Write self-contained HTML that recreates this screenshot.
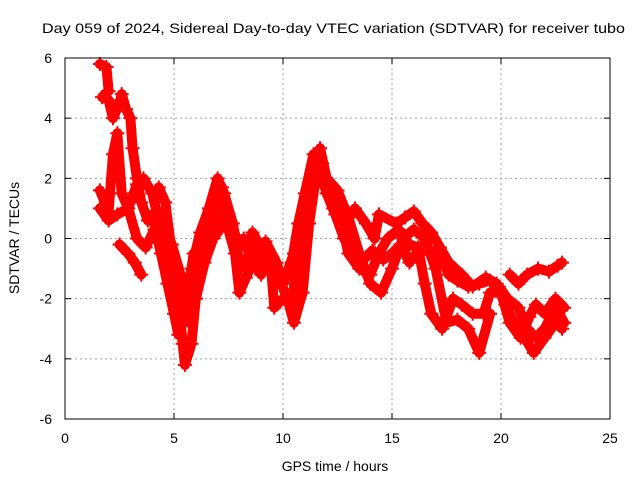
<!DOCTYPE html>
<html><head><meta charset="utf-8"><style>
body{margin:0;background:#fff}
svg text{font-family:"Liberation Sans",sans-serif;font-size:14px;fill:#000}
</style></head><body>
<svg id="chart" width="640" height="480">
<rect width="640" height="480" fill="#fff"/>
<g id="grid"></g>
<g id="series"></g>
<rect x="65" y="58" width="545" height="361" fill="none" stroke="#000"/>
<g id="ticks"></g>
<text x="42" y="33" textLength="583" lengthAdjust="spacingAndGlyphs">Day 059 of 2024, Sidereal Day-to-day VTEC variation (SDTVAR) for receiver tubo</text>
<text x="335" y="471" text-anchor="middle">GPS time / hours</text>
<text x="19" y="238" text-anchor="middle" transform="rotate(-90 19 238)">SDTVAR / TECUs</text>
</svg>
<script>
const xTicks=[0,5,10,15,20,25];
const yTicks=[-6,-4,-2,0,2,4,6];
const trackA=[[1.6,5.8],[1.9,5.7],[2.0,4.9],[1.7,4.7],[2.0,4.6],[2.2,4.0],[2.5,4.5],[2.6,4.8],[2.8,4.3],[3.0,4.0],[3.1,3.0],[3.3,2.0],[3.5,1.2],[3.8,0.6],[4.0,0.8],[4.4,-0.5],[4.7,-1.5],[5.0,-2.5],[5.2,-3.2],[5.5,-2.5],[5.8,-1.0],[6.2,0.2],[6.6,1.0],[7.0,2.0],[7.3,1.5],[7.7,0.5],[8.0,-0.8],[8.3,-1.0],[8.6,0.2],[9.0,-0.3],[9.4,-1.0],[9.8,-1.3],[10.2,-2.0],[10.5,-2.8],[10.9,-1.8],[11.2,0.5],[11.5,2.0],[11.7,3.0],[12.0,2.0],[12.5,1.6],[13.0,0.7],[13.5,-0.5],[14.0,-1.5],[14.5,-1.8],[15.0,-1.0],[15.5,0.0],[16.0,0.3],[16.5,0.0],[17.0,-1.0],[17.5,-2.8],[18.0,-2.7],[18.5,-3.0],[19.0,-3.8],[19.5,-2.5]];
const trackB=[[1.6,1.6],[2.0,0.9],[2.2,2.8],[2.4,3.5],[2.6,1.5],[2.9,1.0],[3.3,1.8],[3.6,2.0],[4.0,1.5],[4.3,0.6],[4.6,-0.5],[5.0,-1.5],[5.3,-2.5],[5.6,-2.0],[5.9,-0.5],[6.3,-0.2],[6.8,0.5],[7.3,0.8],[7.8,-0.5],[8.0,-1.8],[8.3,-1.3],[8.6,-0.8],[9.2,-0.1],[9.7,-0.8],[10.0,-1.5],[10.5,-0.5],[10.9,0.3],[11.2,1.5],[11.6,2.5],[12.0,1.5],[12.4,0.8],[12.8,0.0],[13.2,-0.5],[13.7,-0.7],[14.1,-0.4],[14.6,-0.7],[15.0,-0.5],[15.4,-0.2],[15.8,-0.8],[16.3,-0.3],[16.8,-0.5],[17.2,-0.5],[17.6,-1.2],[18.0,-1.4],[18.5,-1.6],[19.0,-1.5],[19.5,-1.4],[19.9,-1.6],[20.3,-2.0],[20.8,-2.3],[21.2,-3.0],[21.6,-3.3],[22.0,-3.0],[22.5,-2.3],[22.9,-2.8]];
const trackC1=[[2.5,-0.2],[2.9,-0.5],[3.2,-0.8],[3.5,-1.2]];
const trackC=[[4.3,1.7],[4.6,1.2],[4.9,-0.5],[5.2,-2.0],[5.4,-3.5],[5.5,-4.2],[5.8,-3.5],[6.0,-2.0],[6.3,-0.5],[6.7,0.2],[7.2,1.7],[7.5,0.8],[8.0,-0.3],[8.5,0.0],[9.0,-0.8],[9.5,-0.6],[10.0,-1.5],[10.4,-0.8],[10.7,0.5],[11.0,1.5],[11.4,2.8],[11.8,2.5],[12.3,1.0],[12.8,0.5],[13.3,1.0],[13.8,0.5],[14.2,0.0],[14.4,0.8],[15.2,0.5],[15.6,0.7],[16.0,0.9],[16.4,0.5],[16.8,0.2],[17.2,-0.3],[17.6,-0.8],[18.2,-1.2],[18.7,-1.6],[19.3,-1.3],[19.8,-1.5],[20.2,-2.2],[20.6,-2.8],[21.0,-3.2],[21.5,-3.8],[22.0,-3.3],[22.5,-2.8],[22.8,-3.0]];
const trackD=[[1.6,1.0],[2.0,0.6],[2.4,0.8],[2.9,1.0],[3.3,0.0],[3.7,-0.3],[4.1,0.3],[4.5,0.5],[4.9,-0.2],[5.3,-1.2],[5.7,-2.8],[6.0,-2.0],[6.4,-0.8],[6.8,0.0],[7.4,0.6],[7.8,-0.2],[8.2,0.0],[8.6,-0.8],[9.0,-1.2],[9.4,-0.5],[9.6,-2.3],[10.0,-2.0],[10.4,-2.2],[10.7,-0.5],[11.2,1.2],[11.6,2.0],[12.2,1.8],[12.6,0.8],[13.0,-0.5],[13.5,-1.0],[14.0,-1.2],[14.4,-0.5],[14.8,0.0],[15.3,0.3],[15.8,-0.2],[16.2,-0.3],[16.5,-1.5],[16.8,-2.5],[17.3,-3.0],[17.8,-2.0],[18.2,-2.2],[18.7,-2.5],[19.2,-2.5],[19.5,-1.8],[20.0,-1.8],[20.4,-2.8],[20.9,-3.3],[21.3,-2.6],[21.6,-2.2],[22.0,-2.5],[22.5,-2.0],[22.9,-2.3]];
const trackE=[[20.4,-1.2],[20.8,-1.5],[21.2,-1.2],[21.7,-1.0],[22.2,-1.1],[22.6,-0.9],[22.8,-0.8]];
const tracks=[trackA,trackB,trackC1,trackC,trackD,trackE];

const NS="http://www.w3.org/2000/svg";
const X0=65,X1=610,Y0=419,Y1=58;
function sx(v){return X0+(v-0)/(25-0)*(X1-X0);}
function sy(v){return Y0-(v+6)/12*(Y0-Y1);}
function mk(tag,attrs,parent){const e=document.createElementNS(NS,tag);for(const k in attrs)e.setAttribute(k,attrs[k]);parent.appendChild(e);return e;}
const grid=document.getElementById('grid'),ticks=document.getElementById('ticks'),ser=document.getElementById('series');
xTicks.forEach(t=>{const x=sx(t);
 if(t>0&&t<25){const g=mk('line',{x1:x,x2:x,y1:Y1,y2:Y0,stroke:'#a0a0a0','stroke-dasharray':'2,3'},grid);}
 const a=mk('line',{x1:x,x2:x,y1:Y0,y2:Y0-6,stroke:'#000'},ticks);
 const b=mk('line',{x1:x,x2:x,y1:Y1,y2:Y1+6,stroke:'#000'},ticks);
 const l=mk('text',{x:x,y:443,'text-anchor':'middle'},ticks);l.textContent=t;});
yTicks.forEach(t=>{const y=sy(t);
 if(t>-6&&t<6){const g=mk('line',{x1:X0,x2:X1,y1:y,y2:y,stroke:'#a0a0a0','stroke-dasharray':'2,3'},grid);}
 const a=mk('line',{x1:X0,x2:X0+6,y1:y,y2:y,stroke:'#000'},ticks);
 const b=mk('line',{x1:X1,x2:X1-6,y1:y,y2:y,stroke:'#000'},ticks);
 const l=mk('text',{x:52,y:y+5,'text-anchor':'end'},ticks);l.textContent=t;});
tracks.forEach(tr=>{
 const p=mk('polyline',{points:tr.map(d=>sx(d[0])+','+sy(d[1])).join(' '),fill:'none',stroke:'#f00','stroke-width':10,'stroke-linejoin':'round','stroke-linecap':'round'},ser);
 
 
 tr.forEach(d=>{const x=sx(d[0]),y=sy(d[1]);
  const c=mk('path',{d:`M${x-7},${y}H${x+7}M${x},${y-7}V${y+7}`,stroke:'#f00','stroke-width':2},ser);
  
  });
});
</script>
</body></html>
